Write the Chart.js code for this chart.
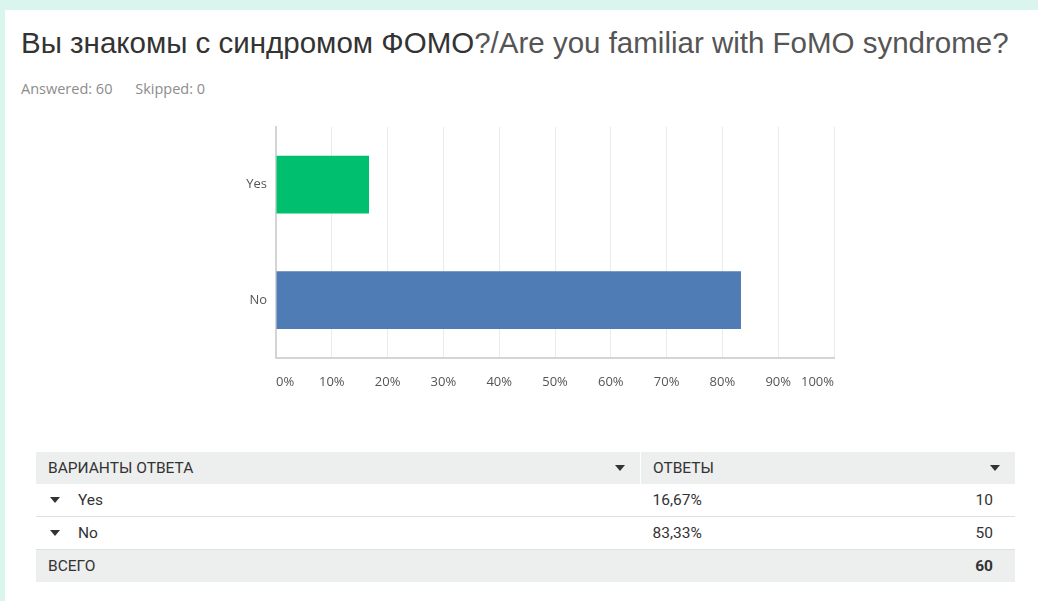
<!DOCTYPE html>
<html>
<head>
<meta charset="utf-8">
<script src="https://cdn.jsdelivr.net/npm/chart.js@4.4.0/dist/chart.umd.min.js"></script>
<style>
    html, body { margin: 0; padding: 0; }
    body { width: 1038px; height: 601px; background: #d9f5ee; overflow: hidden; position: relative; font-family: Roboto, "Liberation Sans", sans-serif; }
    #card { position: absolute; left: 5px; top: 10px; right: 0; bottom: 0; background: #fff; }
    #title { position: absolute; left: 16px; top: 16px; font-family: "Liberation Sans", Arial, sans-serif; font-size: 29.5px; color: #333; white-space: nowrap; }
    #title .en { color: #555; }
    #stats { position: absolute; left: 16px; top: 69px; font-family: "Open Sans", sans-serif; font-size: 14.5px; color: #8c8c8c; }
    #stats span { margin-right: 19px; }
    #chartBox { position: absolute; left: 190px; top: 100px; width: 655px; height: 280px; }
    table { position: absolute; left: 31px; top: 442px; width: 979px; border-collapse: collapse; font-size: 15.5px; color: #333; }
    td { height: 32px; padding: 0 12px; }
    .head td { background: #edeeee; }
    .head td:first-child { border-right: 1px solid #fff; }
    .row td { border-bottom: 1px solid #e0e0e0; }
    .total td { background: #edeeee; }
    .arr, .tri { display: inline-block; width: 0; height: 0; border-left: 5px solid transparent; border-right: 5px solid transparent; border-top: 6px solid #333; }
    .arr { float: right; margin-top: 6px; margin-right: 3px; }
    .tri { margin: 0 18px 2px 2px; }
    .num { text-align: right; padding-right: 22px; }
</style>
</head>
<body>
<div id="card">
    <div id="title">Вы знакомы с синдромом ФОМО<span class="en">?/Are you familiar with FoMO syndrome?</span></div>
    <div id="stats"><span>Answered: 60</span> <span>Skipped: 0</span></div>
    <div id="chartBox"><canvas id="fomoChart"></canvas></div>
    <table id="answers"></table>
</div>
<script>
var answerLabels = ['Yes', 'No'];
var answerPercents = [16.67, 83.33];
var answerCounts = [10, 50];
var barColors = ['#00bf6f', '#507cb6'];
var tickLabels = ['0%', '10%', '20%', '30%', '40%', '50%', '60%', '70%', '80%', '90%', '100%'];

/*********************** tabla ***********************/
function buildTable() {
    var html = '<tr class="head"><td style="width:580px">ВАРИАНТЫ ОТВЕТА<span class="arr"></span></td>' +
        '<td colspan="2">ОТВЕТЫ<span class="arr"></span></td></tr>';
    var total = 0;
    for (var i = 0; i < answerLabels.length; i++) {
        total += answerCounts[i];
        html += '<tr class="row"><td><span class="tri"></span>' + answerLabels[i] + '</td>' +
            '<td>' + answerPercents[i].toFixed(2).replace('.', ',') + '%</td>' +
            '<td class="num">' + answerCounts[i] + '</td></tr>';
    }
    html += '<tr class="total"><td>ВСЕГО</td><td></td><td class="num"><b>' + total + '</b></td></tr>';
    document.getElementById('answers').innerHTML = html;
}

/*********************** canvas ***********************/
function fomoCanvas() {
    var ctx = document.getElementById('fomoChart').getContext('2d');
    var chart = new Chart(ctx, {
        type: 'bar',
        data: {
            labels: answerLabels,
            datasets: [{
                data: answerPercents,
                backgroundColor: barColors,
                barPercentage: 0.5,
                categoryPercentage: 1
            }]
        },
        options: {
            indexAxis: 'y',
            responsive: true,
            maintainAspectRatio: false,
            animation: false,
            layout: { padding: { top: 16, right: 10 } },
            plugins: { legend: { display: false }, tooltip: { enabled: false } },
            scales: {
                x: {
                    min: 0,
                    max: 100,
                    afterBuildTicks: function (scale) {
                        scale.ticks = tickLabels.map(function (t, i) { return { value: i * 10 }; });
                    },
                    afterFit: function (scale) { scale.height = 32; },
                    grid: { color: '#ebebeb', drawTicks: false },
                    border: { color: '#d4d4d4', width: 2 },
                    ticks: {
                        align: 'inner',
                        padding: 16,
                        color: '#555',
                        font: { family: 'Open Sans', size: 13 },
                        callback: function (v, i) { return tickLabels[i]; }
                    }
                },
                y: {
                    afterFit: function (scale) { scale.width = 81; },
                    grid: { display: false, drawTicks: false },
                    border: { color: '#d4d4d4', width: 2 },
                    ticks: {
                        padding: 9,
                        color: '#555',
                        font: { family: 'Open Sans', size: 13 }
                    }
                }
            }
        }
    });
}

buildTable();
fomoCanvas();
</script>
</body>
</html>
